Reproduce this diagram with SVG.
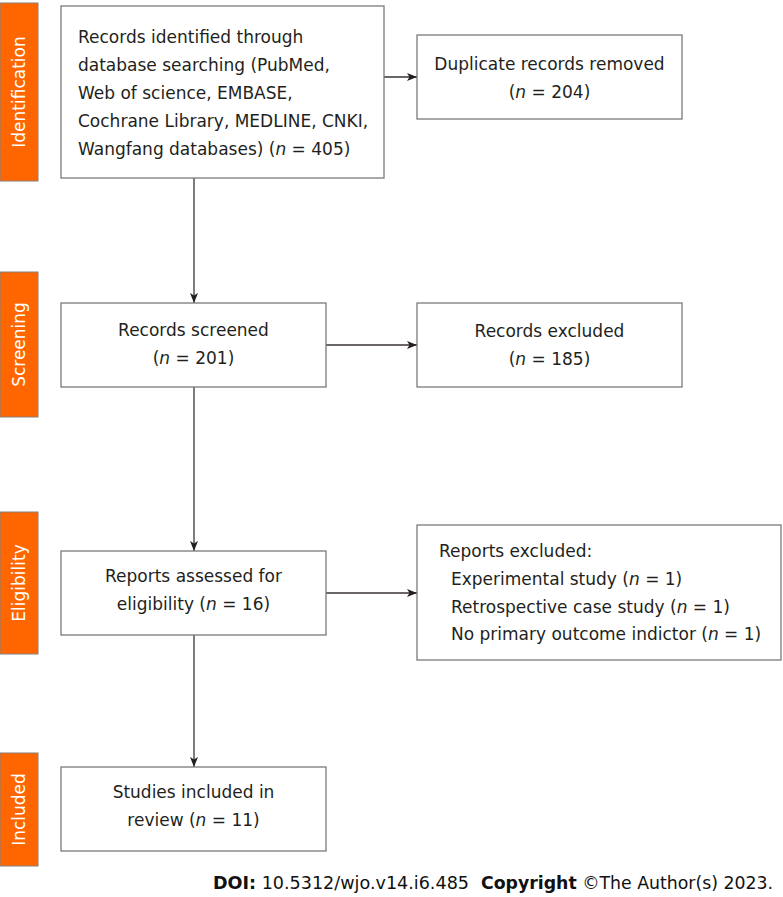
<svg xmlns="http://www.w3.org/2000/svg" width="783" height="897" viewBox="0 0 783 897">
<style>
.box{fill:#fff;stroke:#7a7a7a;stroke-width:1.3}
.side{fill:#ff6600;stroke:#8a7f78;stroke-width:1}
.t{font-family:"DejaVu Sans",Verdana,sans-serif;font-size:17px;fill:#231f20}
.c{text-anchor:middle}
.s{font-family:"DejaVu Sans",Verdana,sans-serif;font-size:17px;fill:#fff;text-anchor:middle;dominant-baseline:central}
.ln{stroke:#3a3533;stroke-width:1.3;fill:none}
.f{font-family:"DejaVu Sans",Verdana,sans-serif;font-size:17.5px;fill:#111}
</style>
<defs>
<marker id="ah" viewBox="0 0 10 8" refX="10" refY="4" markerWidth="10" markerHeight="8" markerUnits="userSpaceOnUse" orient="auto">
<path d="M0,0 L10,4 L0,8 L2.5,4 z" fill="#231f20"/>
</marker>
</defs>
<rect width="783" height="897" fill="#fff"/>
<g id="stage-identification"><rect class="side" x="0" y="3" width="38" height="178"/><text class="s" transform="translate(19,92) rotate(-90)">Identification</text></g>
<g id="stage-screening"><rect class="side" x="0" y="272" width="38" height="145"/><text class="s" transform="translate(19,344.5) rotate(-90)">Screening</text></g>
<g id="stage-eligibility"><rect class="side" x="0" y="512" width="38" height="142"/><text class="s" transform="translate(19,583) rotate(-90)">Eligibility</text></g>
<g id="stage-included"><rect class="side" x="0" y="753" width="38" height="113"/><text class="s" transform="translate(19,809.5) rotate(-90)">Included</text></g>
<g id="connectors">
<line class="ln" x1="194" y1="178" x2="194" y2="303" marker-end="url(#ah)"/>
<line class="ln" x1="384" y1="77" x2="417" y2="77" marker-end="url(#ah)"/>
<line class="ln" x1="194" y1="387" x2="194" y2="551" marker-end="url(#ah)"/>
<line class="ln" x1="326" y1="345" x2="417" y2="345" marker-end="url(#ah)"/>
<line class="ln" x1="194" y1="635" x2="194" y2="767" marker-end="url(#ah)"/>
<line class="ln" x1="326" y1="593" x2="417" y2="593" marker-end="url(#ah)"/>
</g>
<g id="records-identified"><rect class="box" x="61" y="6" width="323" height="172"/>
<text class="t" x="78" y="43">Records identified through</text>
<text class="t" x="78" y="71">database searching (PubMed,</text>
<text class="t" x="78" y="99">Web of science, EMBASE,</text>
<text class="t" x="78" y="127">Cochrane Library, MEDLINE, CNKI,</text>
<text class="t" x="78" y="155">Wangfang databases) (<tspan font-style="italic">n</tspan> = 405)</text></g>
<g id="duplicates-removed"><rect class="box" x="417" y="35" width="265" height="84"/>
<text class="t c" x="549.5" y="70">Duplicate records removed</text>
<text class="t c" x="549.5" y="98">(<tspan font-style="italic">n</tspan> = 204)</text></g>
<g id="records-screened"><rect class="box" x="61" y="303" width="265" height="84"/>
<text class="t c" x="193.5" y="336">Records screened</text>
<text class="t c" x="193.5" y="364">(<tspan font-style="italic">n</tspan> = 201)</text></g>
<g id="records-excluded"><rect class="box" x="417" y="303" width="265" height="84"/>
<text class="t c" x="549.5" y="337">Records excluded</text>
<text class="t c" x="549.5" y="365">(<tspan font-style="italic">n</tspan> = 185)</text></g>
<g id="reports-assessed"><rect class="box" x="61" y="551" width="265" height="84"/>
<text class="t c" x="193.5" y="582">Reports assessed for</text>
<text class="t c" x="193.5" y="610">eligibility (<tspan font-style="italic">n</tspan> = 16)</text></g>
<g id="reports-excluded"><rect class="box" x="417" y="525" width="364" height="135"/>
<text class="t" x="439" y="557">Reports excluded:</text>
<text class="t" x="451" y="585">Experimental study (<tspan font-style="italic">n</tspan> = 1)</text>
<text class="t" x="451" y="613">Retrospective case study (<tspan font-style="italic">n</tspan> = 1)</text>
<text class="t" x="451" y="640">No primary outcome indictor (<tspan font-style="italic">n</tspan> = 1)</text></g>
<g id="studies-included"><rect class="box" x="61" y="767" width="265" height="84"/>
<text class="t c" x="193.5" y="798">Studies included in</text>
<text class="t c" x="193.5" y="826">review (<tspan font-style="italic">n</tspan> = 11)</text></g>
<text class="f" x="213" y="889" textLength="256" lengthAdjust="spacingAndGlyphs"><tspan font-weight="bold">DOI:</tspan> 10.5312/wjo.v14.i6.485</text>
<text class="f" x="481" y="889" textLength="292" lengthAdjust="spacingAndGlyphs"><tspan font-weight="bold">Copyright</tspan> ©The Author(s) 2023.</text>
</svg>
